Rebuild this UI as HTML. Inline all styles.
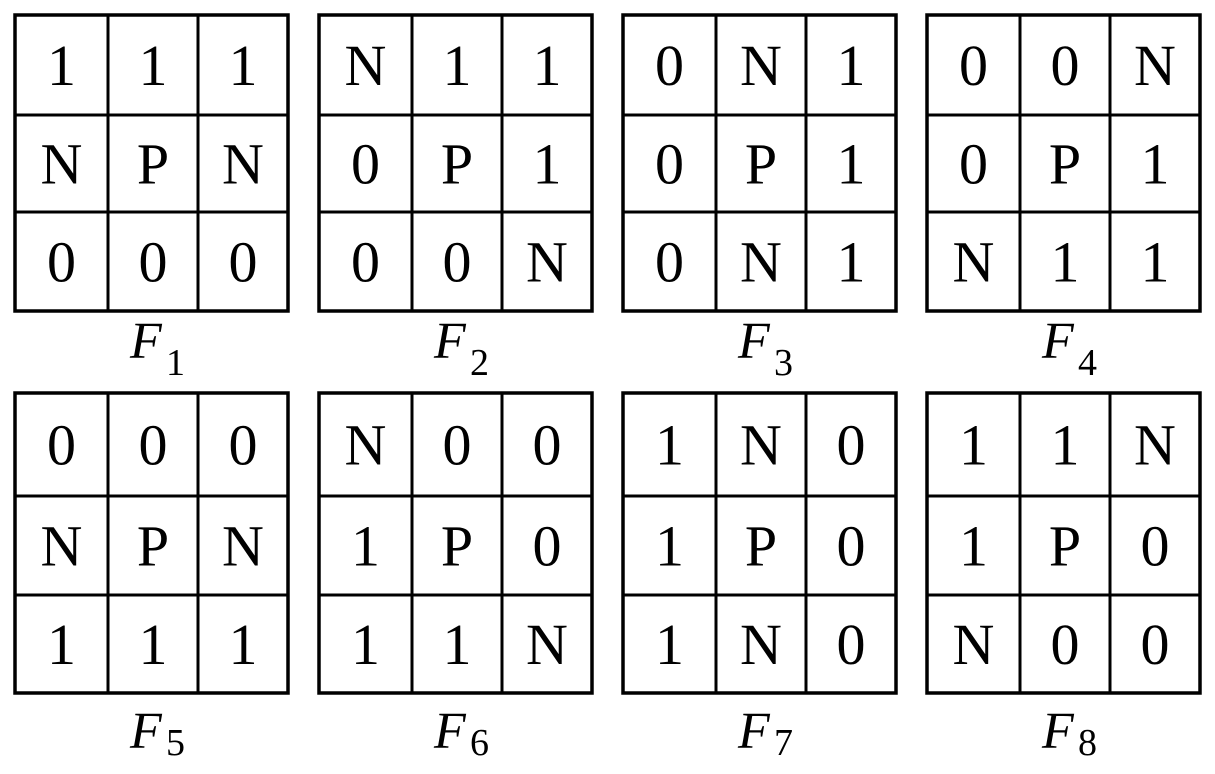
<!DOCTYPE html>
<html><head><meta charset="utf-8"><style>html,body{margin:0;padding:0;background:#fff}svg{display:block}svg text{font-family:"Liberation Serif","Times New Roman",serif}</style></head>
<body>
<svg width="1215" height="774" viewBox="0 0 1215 774" xmlns="http://www.w3.org/2000/svg" style="font-family:'Liberation Serif',serif">
<g fill="none" stroke="#000" stroke-width="3.5">
<rect x="15" y="15" width="273" height="296"/><rect x="319" y="15" width="273" height="296"/><rect x="623" y="15" width="273" height="296"/><rect x="927" y="15" width="273" height="296"/>
<rect x="15" y="393" width="273" height="300"/><rect x="319" y="393" width="273" height="300"/><rect x="623" y="393" width="273" height="300"/><rect x="927" y="393" width="273" height="300"/>
</g>
<g stroke="#000" stroke-width="3">
<line x1="108" y1="15" x2="108" y2="311"/><line x1="198" y1="15" x2="198" y2="311"/>
<line x1="412" y1="15" x2="412" y2="311"/><line x1="502" y1="15" x2="502" y2="311"/>
<line x1="716" y1="15" x2="716" y2="311"/><line x1="806" y1="15" x2="806" y2="311"/>
<line x1="1020" y1="15" x2="1020" y2="311"/><line x1="1110" y1="15" x2="1110" y2="311"/>
<line x1="108" y1="393" x2="108" y2="693"/><line x1="198" y1="393" x2="198" y2="693"/>
<line x1="412" y1="393" x2="412" y2="693"/><line x1="502" y1="393" x2="502" y2="693"/>
<line x1="716" y1="393" x2="716" y2="693"/><line x1="806" y1="393" x2="806" y2="693"/>
<line x1="1020" y1="393" x2="1020" y2="693"/><line x1="1110" y1="393" x2="1110" y2="693"/>
<line x1="15" y1="115" x2="1200" y2="115" stroke-dasharray="273 31"/>
<line x1="15" y1="212" x2="1200" y2="212" stroke-dasharray="273 31"/>
<line x1="15" y1="496" x2="1200" y2="496" stroke-dasharray="273 31"/>
<line x1="15" y1="595" x2="1200" y2="595" stroke-dasharray="273 31"/>
</g>
<g font-size="58" text-anchor="middle" fill="#000">
<text x="61.5" y="85">1</text><text x="153" y="85">1</text><text x="243" y="85">1</text>
<text x="61.5" y="183.5">N</text><text x="153" y="183.5">P</text><text x="243" y="183.5">N</text>
<text x="61.5" y="281.5">0</text><text x="153" y="281.5">0</text><text x="243" y="281.5">0</text>
<text x="365.5" y="85">N</text><text x="457" y="85">1</text><text x="547" y="85">1</text>
<text x="365.5" y="183.5">0</text><text x="457" y="183.5">P</text><text x="547" y="183.5">1</text>
<text x="365.5" y="281.5">0</text><text x="457" y="281.5">0</text><text x="547" y="281.5">N</text>
<text x="669.5" y="85">0</text><text x="761" y="85">N</text><text x="851" y="85">1</text>
<text x="669.5" y="183.5">0</text><text x="761" y="183.5">P</text><text x="851" y="183.5">1</text>
<text x="669.5" y="281.5">0</text><text x="761" y="281.5">N</text><text x="851" y="281.5">1</text>
<text x="973.5" y="85">0</text><text x="1065" y="85">0</text><text x="1155" y="85">N</text>
<text x="973.5" y="183.5">0</text><text x="1065" y="183.5">P</text><text x="1155" y="183.5">1</text>
<text x="973.5" y="281.5">N</text><text x="1065" y="281.5">1</text><text x="1155" y="281.5">1</text>
<text x="61.5" y="464.5">0</text><text x="153" y="464.5">0</text><text x="243" y="464.5">0</text>
<text x="61.5" y="565.5">N</text><text x="153" y="565.5">P</text><text x="243" y="565.5">N</text>
<text x="61.5" y="664">1</text><text x="153" y="664">1</text><text x="243" y="664">1</text>
<text x="365.5" y="464.5">N</text><text x="457" y="464.5">0</text><text x="547" y="464.5">0</text>
<text x="365.5" y="565.5">1</text><text x="457" y="565.5">P</text><text x="547" y="565.5">0</text>
<text x="365.5" y="664">1</text><text x="457" y="664">1</text><text x="547" y="664">N</text>
<text x="669.5" y="464.5">1</text><text x="761" y="464.5">N</text><text x="851" y="464.5">0</text>
<text x="669.5" y="565.5">1</text><text x="761" y="565.5">P</text><text x="851" y="565.5">0</text>
<text x="669.5" y="664">1</text><text x="761" y="664">N</text><text x="851" y="664">0</text>
<text x="973.5" y="464.5">1</text><text x="1065" y="464.5">1</text><text x="1155" y="464.5">N</text>
<text x="973.5" y="565.5">1</text><text x="1065" y="565.5">P</text><text x="1155" y="565.5">0</text>
<text x="973.5" y="664">N</text><text x="1065" y="664">0</text><text x="1155" y="664">0</text>
</g>
<g fill="#000">
<text x="130" y="358" font-size="52" font-style="italic">F</text><text x="166" y="375" font-size="38">1</text>
<text x="434" y="358" font-size="52" font-style="italic">F</text><text x="470" y="375" font-size="38">2</text>
<text x="738" y="358" font-size="52" font-style="italic">F</text><text x="774" y="375" font-size="38">3</text>
<text x="1042" y="358" font-size="52" font-style="italic">F</text><text x="1078" y="375" font-size="38">4</text>
<text x="130" y="748" font-size="52" font-style="italic">F</text><text x="166" y="755" font-size="38">5</text>
<text x="434" y="748" font-size="52" font-style="italic">F</text><text x="470" y="755" font-size="38">6</text>
<text x="738" y="748" font-size="52" font-style="italic">F</text><text x="774" y="755" font-size="38">7</text>
<text x="1042" y="748" font-size="52" font-style="italic">F</text><text x="1078" y="755" font-size="38">8</text>
</g>
</svg>
</body></html>
